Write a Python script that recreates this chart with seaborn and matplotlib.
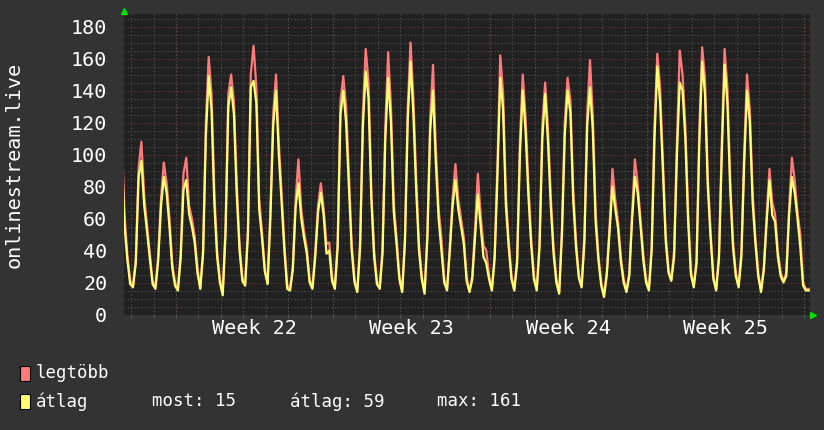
import pandas as pd
import numpy as np
import matplotlib
matplotlib.use("Agg")
import matplotlib.pyplot as plt
import matplotlib.dates as mdates
from matplotlib.patches import Rectangle
import seaborn as sns

# -------------------------
# Data (3-hourly samples, first at 2023-05-26 14:00)
# -------------------------
start = "2023-05-26 14:00"

atlag = [
    100, 55, 34, 19,                       # May 26 (Fri, from 14:00)
    17, 32, 86, 96, 68, 52, 35, 19,        # May 27
    16, 34, 68, 86, 76, 55, 29, 18,        # May 28
    15, 35, 78, 84, 63, 55, 45, 26,        # May 29
    16, 38, 112, 149, 128, 70, 36, 20,     # May 30
    12, 50, 130, 142, 125, 75, 40, 21,     # May 31
    18, 50, 142, 146, 132, 66, 48, 27,     # Jun 1
    19, 60, 118, 140, 100, 70, 40, 16,     # Jun 2
    15, 28, 67, 82, 60, 48, 38, 20,        # Jun 3
    16, 36, 64, 76, 62, 38, 40, 21,        # Jun 4
    16, 42, 125, 140, 120, 80, 40, 20,     # Jun 5
    14, 42, 118, 152, 135, 72, 36, 19,     # Jun 6
    16, 38, 110, 148, 120, 64, 44, 22,     # Jun 7
    14, 45, 122, 158, 125, 78, 40, 22,     # Jun 8
    13, 48, 115, 140, 95, 60, 40, 20,      # Jun 9
    15, 40, 68, 84, 66, 55, 44, 21,        # Jun 10
    14, 22, 48, 75, 55, 36, 32, 22,        # Jun 11
    15, 35, 88, 148, 128, 68, 42, 22,      # Jun 12
    15, 32, 100, 140, 115, 75, 44, 22,     # Jun 13
    15, 42, 110, 138, 108, 68, 38, 20,     # Jun 14
    13, 50, 112, 140, 126, 72, 42, 23,     # Jun 15
    17, 45, 118, 142, 115, 58, 34, 18,     # Jun 16
    11, 25, 52, 80, 66, 54, 33, 20,        # Jun 17
    14, 24, 59, 86, 76, 56, 34, 20,        # Jun 18
    15, 40, 110, 155, 132, 90, 46, 26,     # Jun 19
    21, 36, 100, 145, 140, 110, 58, 25,    # Jun 20
    17, 32, 108, 158, 138, 80, 48, 22,     # Jun 21
    15, 35, 100, 156, 132, 78, 42, 24,     # Jun 22
    17, 36, 95, 140, 120, 70, 44, 24,      # Jun 23
    14, 28, 58, 84, 62, 58, 36, 24,        # Jun 24
    20, 24, 62, 86, 76, 60, 42, 18,        # Jun 25
    15, 15,                                # Jun 26
]

legtobb = [
    110, 62, 37, 21,
    18, 35, 92, 108, 74, 56, 38, 21,
    17, 37, 73, 95, 82, 60, 32, 20,
    16, 38, 88, 98, 68, 60, 49, 29,
    17, 41, 120, 161, 138, 77, 40, 22,
    14, 55, 138, 150, 133, 82, 44, 23,
    19, 55, 150, 168, 142, 72, 52, 29,
    20, 65, 125, 150, 108, 76, 44, 18,
    16, 30, 72, 97, 66, 52, 41, 22,
    17, 39, 68, 82, 66, 44, 45, 23,
    17, 46, 133, 149, 130, 88, 44, 22,
    15, 46, 126, 166, 145, 78, 40, 21,
    17, 42, 118, 164, 130, 70, 48, 24,
    15, 49, 130, 170, 135, 85, 44, 24,
    14, 52, 122, 156, 104, 66, 48, 22,
    16, 43, 73, 94, 72, 60, 48, 23,
    15, 24, 54, 88, 62, 43, 40, 24,
    16, 38, 95, 162, 138, 74, 46, 24,
    16, 35, 108, 150, 124, 82, 48, 24,
    16, 46, 118, 145, 116, 74, 42, 22,
    14, 55, 120, 148, 134, 78, 46, 25,
    18, 50, 126, 159, 124, 64, 37, 20,
    12, 27, 56, 91, 72, 58, 36, 22,
    15, 26, 63, 97, 82, 60, 38, 22,
    16, 44, 118, 163, 142, 96, 50, 28,
    22, 40, 108, 165, 150, 118, 64, 27,
    18, 35, 116, 167, 148, 86, 52, 24,
    16, 38, 108, 166, 142, 84, 46, 26,
    18, 40, 102, 150, 128, 76, 48, 26,
    15, 30, 62, 91, 70, 63, 40, 26,
    21, 26, 66, 98, 84, 64, 50, 20,
    16, 16,
]

week_starts = pd.date_range("2023-05-29", "2023-06-26", freq="7D")
legend_stats = ["most: 15", "átlag: 59", "max: 161"]

df = pd.DataFrame({
    "ido": pd.date_range(start, periods=len(atlag), freq="3h"),
    "legtöbb": legtobb,
    "átlag": atlag,
})

# -------------------------
# Style
# -------------------------
BG = "#333333"
PLOT_BG = "#212121"
RED = "#ff7b7b"
YELLOW = "#ffff70"
MONO = "DejaVu Sans Mono"

fig = plt.figure(figsize=(8.24, 4.30), dpi=100)
fig.patch.set_facecolor(BG)
ax = fig.add_axes([124 / 824, 115 / 430, 686 / 824, 300.5 / 430])
ax.set_facecolor(PLOT_BG)

sns.lineplot(data=df, x="ido", y="legtöbb", color=RED, lw=1.6, ax=ax)
sns.lineplot(data=df, x="ido", y="átlag", color=YELLOW, lw=1.6, ax=ax)
ax.set_xlabel("")
ax.set_ylabel("")

# axis ranges
t0 = week_starts[0]
ax.set_xlim(t0 - pd.Timedelta(days=2.318), t0 + pd.Timedelta(days=28.266))
ax.set_ylim(-0.3, 187.5)

# y ticks / grid
ax.set_yticks(np.arange(0, 181, 20))
ax.set_yticks(np.arange(0, 186, 5), minor=True)
ax.grid(which="major", axis="y", color="#7a3636", ls=(0, (1, 2)), lw=0.8)
ax.grid(which="minor", axis="both", color="#555555", ls=(0, (1, 2)), lw=0.8)
ax.set_axisbelow(True)

# x ticks: daily minor grid, week labels in the middle of the week
ax.xaxis.set_minor_locator(mdates.DayLocator())
mids = [mdates.date2num(w + pd.Timedelta(days=3.5)) for w in week_starts[:-1]]
ax.set_xticks(mids, [f"Week {w.isocalendar().week}" for w in week_starts[:-1]])
for w in week_starts:
    ax.axvline(w, color="#7a3636", ls=(0, (1, 2)), lw=0.8, zorder=0.5)

ax.tick_params(axis="y", which="both", length=0, pad=12, colors="white",
               labelsize=14.5)
ax.tick_params(axis="x", which="major", length=0, pad=3, colors="white",
               labelsize=14.5)
ax.tick_params(axis="x", which="minor", length=2, color="#666666")
for lab in ax.get_xticklabels() + ax.get_yticklabels():
    lab.set_family(MONO)

for s in ax.spines.values():
    s.set_visible(False)

# green arrows at the axis ends
ax.plot([0], [1.013], marker="^", color="#00dd00", ms=5, transform=ax.transAxes,
        clip_on=False)
ax.plot([1.004], [0], marker=">", color="#00dd00", ms=5, transform=ax.transAxes,
        clip_on=False)

# y label
fig.text(14 / 824, 1 - 165 / 430, "onlinestream.live", rotation=90, ha="center",
         va="center", color="white", family=MONO, fontsize=14.5)

# legend
for (label, col, ytop) in [("legtöbb", RED, 366), ("átlag", YELLOW, 394)]:
    fig.add_artist(Rectangle((20 / 824, 1 - (ytop + 15) / 430), 10 / 824, 15 / 430,
                             transform=fig.transFigure, facecolor=col,
                             edgecolor="black", lw=0.8))
    fig.text(36 / 824, 1 - (ytop + 7.5) / 430, label, color="white", family=MONO,
             fontsize=12.5, va="center", ha="left")

for txt, xpos in zip(legend_stats, [152, 290, 437]):
    fig.text(xpos / 824, 1 - 401.5 / 430, txt, color="white", family=MONO,
             fontsize=12.5, va="center", ha="left")

fig.savefig("out.png", dpi=100, facecolor=BG)
